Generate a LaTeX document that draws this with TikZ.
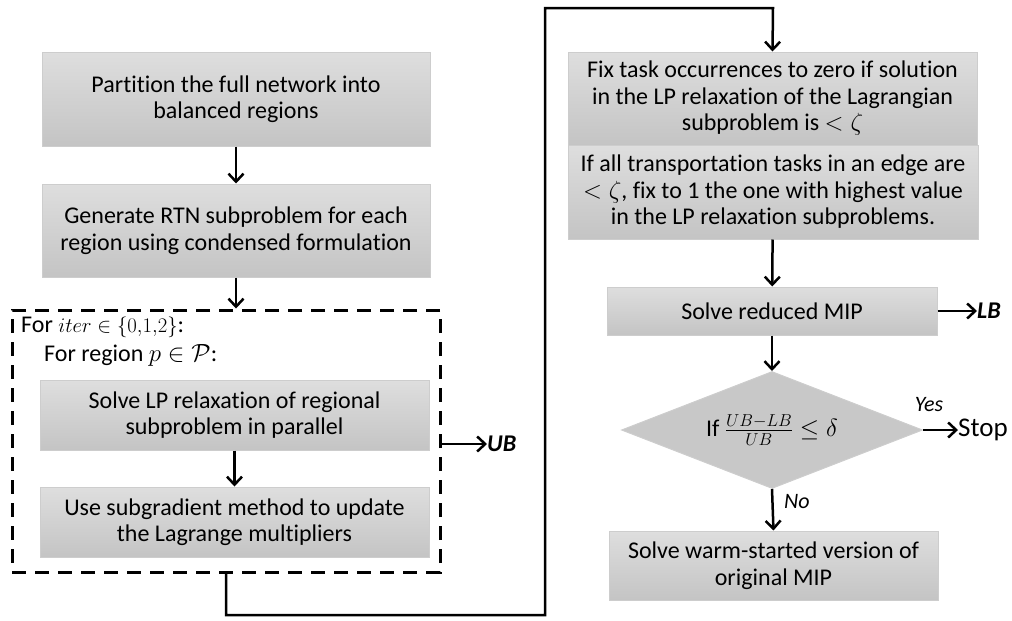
\documentclass[tikz,border=0pt]{standalone}
\usepackage{fontspec}
\setmainfont{Carlito}[Ligatures=NoCommon]
\usetikzlibrary{arrows.meta,shapes.geometric}
\definecolor{boxtop}{RGB}{222,222,222}
\definecolor{boxbot}{RGB}{196,196,196}
\definecolor{boxline}{RGB}{205,205,205}
\definecolor{diafill}{RGB}{200,200,200}
\tikzset{
  stepbox/.style={rectangle, draw=boxline, line width=1pt, top color=boxtop, bottom color=boxbot,
    align=center, inner sep=0pt, font=\fontsize{24}{26.5}\selectfont},
  arr/.style={line width=2.5pt, -{Straight Barb[length=8pt,width=15pt,line width=2.5pt]}},
  loopbox/.style={rectangle, draw, line width=3pt, dash pattern=on 14pt off 9pt, inner sep=0pt},
  lbl/.style={inner sep=0pt, font=\fontsize{24}{26}\selectfont},
}
\begin{document}
\begin{tikzpicture}[x=1pt,y=-1pt]
\useasboundingbox (0,0) rectangle (1012,621);

% left column
\node[stepbox, minimum width=388pt, minimum height=94pt] (b1) at (236,99)
  {Partition the full network into\\balanced regions};
\node[stepbox, minimum width=388pt, minimum height=93pt] (b2) at (236,230.5)
  {Generate RTN subproblem for each\\region using condensed formulation};
\node[loopbox, minimum width=428pt, minimum height=262pt] (loop) at (226,441) {};
\node[lbl, anchor=west, text height=14pt, text depth=3pt] (for1) at (21,327)
  {For {\fontsize{22}{24}\selectfont$iter \in \{0{,}1{,}2\}$}:};
\node[lbl, anchor=west, text height=14pt, text depth=3pt] (for2) at (44,356) {For region $p \in \mathcal{P}$:};
\node[stepbox, minimum width=389pt, minimum height=70pt] (b3) at (234.5,415)
  {Solve LP relaxation of regional\\subproblem in parallel};
\node[stepbox, minimum width=389pt, minimum height=70pt] (b4) at (234.5,522)
  {Use subgradient method to update\\the Lagrange multipliers};
\node[lbl, anchor=west, font=\fontsize{24}{26}\selectfont\bfseries\itshape] (ub) at (487,444) {UB};

% right column
\node[stepbox, minimum width=409pt, minimum height=93pt] (b5) at (772.5,98.5)
  {Fix task occurrences to zero if solution\\in the LP relaxation of the Lagrangian\\subproblem is $<\zeta$};
\node[stepbox, minimum width=410pt, minimum height=94pt] (b6) at (773,192)
  {If all transportation tasks in an edge are\\$<\zeta$, fix to 1 the one with highest value\\in the LP relaxation subproblems.};
\node[stepbox, minimum width=330pt, minimum height=48pt] (b7) at (772,311) {Solve reduced MIP};
\node[lbl, anchor=west, font=\fontsize{24}{26}\selectfont\bfseries\itshape] (lb) at (977,311) {LB};
\node[diamond, fill=diafill, draw=boxline, line width=1pt, inner sep=0pt, aspect=2.57,
  minimum width=301pt, minimum height=117pt, font=\fontsize{24}{26}\selectfont] (dec) at (772,430)
  {If $\frac{UB-LB}{UB} \le \delta$};
\node[lbl, anchor=west, font=\fontsize{27}{28}\selectfont] (stop) at (958,430) {Stop};
\node[lbl, font=\fontsize{22}{24}\selectfont\itshape] (yes) at (929,405) {Yes};
\node[lbl, anchor=west, font=\fontsize{22}{24}\selectfont\itshape] (no) at (784,502) {No};
\node[stepbox, minimum width=329pt, minimum height=69pt] (b8) at (773.5,565.5)
  {Solve warm-started version of\\original MIP};

\coordinate (t1) at (545,615);
\coordinate (t2) at (773,8);

% connectors
\draw[arr] (b1) -- (b2);
\draw[arr] (b2) -- (loop.north -| b2);
\draw[arr] (b3) -- (b4);
\draw[arr] (ub.west -| loop.east) -- (ub.west);
\draw[arr] (loop.south) |- (t1) |- (t2) -- (b5.north);
\draw[arr] (b6) -- (b7);
\draw[arr] (b7) -- (lb);
\draw[arr] (b7) -- (dec);
\draw[arr] (dec.east) -- (stop.west);
\draw[arr] (dec.south) -- (b8.north);
\end{tikzpicture}
\end{document}
